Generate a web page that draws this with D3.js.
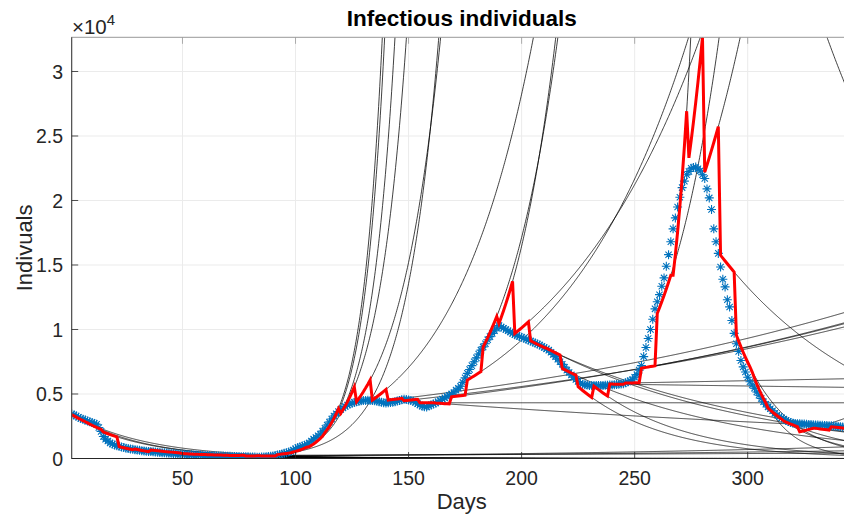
<!DOCTYPE html>
<html>
<head>
<meta charset="utf-8">
<script src="https://cdn.jsdelivr.net/npm/d3@7"></script>
<style>
  html, body { margin: 0; padding: 0; background: #fff; }
  svg { display: block; font-family: "Liberation Sans", Arial, Helvetica, sans-serif; }
</style>
</head>
<body>
<svg id="chart" width="844" height="520"></svg>
<script>
// ---------------- DATA ----------------
// Observed infectious individuals (blue asterisks), one value per day starting at day 1
const observed = [
  3450, 3380, 3300, 3200, 3100, 3050, 2980, 2900, 2850, 2800,
  2720, 2650, 2400, 2100, 1700, 1500, 1350, 1200, 1120, 1050,
  980, 950, 900, 850, 800, 770, 740, 710, 680, 650,
  630, 610, 590, 570, 550, 540, 530, 510, 490, 470,
  450, 440, 425, 410, 400, 385, 370, 355, 340, 330,
  320, 310, 300, 290, 280, 270, 260, 250, 240, 230,
  225, 220, 215, 210, 200, 195, 190, 185, 180, 170,
  165, 160, 155, 150, 150, 145, 140, 135, 130, 125,
  120, 110, 100, 100, 110, 120, 140, 160, 180, 200,
  230, 270, 310, 350, 400, 450, 500, 550, 650, 750,
  850, 900, 960, 1030, 1100, 1200, 1350, 1500, 1630, 1760,
  1900, 2120, 2350, 2600, 2830, 3060, 3300, 3470, 3640, 3800,
  3920, 4030, 4150, 4220, 4290, 4350, 4390, 4430, 4470, 4500,
  4500, 4510, 4500, 4500, 4470, 4440, 4400, 4360, 4330, 4300,
  4320, 4350, 4370, 4400, 4450, 4500, 4560, 4600, 4570, 4530,
  4490, 4450, 4350, 4250, 4150, 4050, 4020, 4000, 4080, 4150,
  4230, 4300, 4400, 4500, 4600, 4700, 4800, 4900, 5000, 5100,
  5300, 5450, 5600, 5900, 6250, 6600, 6900, 7200, 7500, 7800,
  8100, 8400, 8650, 8900, 9200, 9450, 9700, 9900, 10100, 10300,
  10200, 10100, 10000, 9900, 9800, 9700, 9600, 9530, 9460, 9400,
  9320, 9250, 9180, 9100, 9020, 8950, 8870, 8800, 8700, 8600,
  8500, 8400, 8240, 8070, 7900, 7700, 7500, 7300, 7080, 6850,
  6670, 6480, 6300, 6130, 5970, 5800, 5760, 5720, 5690, 5650,
  5650, 5650, 5650, 5650, 5650, 5660, 5670, 5680, 5690, 5700,
  5720, 5740, 5760, 5780, 5800, 5870, 5940, 6020, 6100, 6300,
  6500, 6850, 7200, 7900, 8600, 9300, 10000, 10800, 11600, 12150,
  12700, 13350, 14000, 14900, 15800, 16800, 17800, 18650, 19500, 20250,
  21000, 21500, 22000, 22250, 22500, 22550, 22600, 22450, 22300, 22000,
  21700, 20900, 20200, 19300, 17800, 16800, 15900, 14850, 13900, 13300,
  12300, 11750, 10700, 9700, 8900, 8300, 7600, 7100, 6700, 6300,
  5950, 5700, 5450, 5150, 4900, 4650, 4400, 4200, 4000, 3850,
  3700, 3500, 3350, 3250, 3150, 3050, 2950, 2870, 2800, 2740,
  2720, 2700, 2690, 2680, 2670, 2650, 2640, 2630, 2610, 2600,
  2590, 2580, 2570, 2560, 2550, 2540, 2530, 2520, 2500, 2480,
  2460, 2450, 2440, 2430, 2420, 2410
];

// Weekly exponential fits: window start day, fitted value at window start and at window end (6 days later)
const windowStart = [
  1, 8, 15, 22, 29, 36, 43, 50, 57, 64,
  71, 78, 85, 92, 99, 106, 113, 120, 127, 134,
  141, 148, 155, 162, 169, 176, 183, 190, 197, 204,
  211, 218, 225, 232, 239, 246, 253, 260, 267, 274,
  281, 288, 295, 302, 309, 316, 323, 330, 337, 344
];
const fitStartValue = [
  3400, 2760, 2050, 920, 740, 660, 530, 380, 320, 280,
  240, 200, 190, 300, 500, 913, 2000, 3500, 4400, 4530,
  4530, 4480, 4320, 4300, 4780, 6080, 8650, 10460, 9690, 9120,
  8550, 6980, 5560, 5610, 5770, 5850, 7000, 11240, 14200, 23300,
  22200, 15750, 9560, 6700, 3900, 2900, 2070, 2340, 2460, 2300
];
const fitEndValue = [
  2850, 2250, 1680, 680, 530, 540, 430, 330, 290, 250,
  243, 205, 197, 445, 873, 1735, 3870, 5550, 6080, 5350,
  4655, 4595, 4320, 4223, 4912, 6740, 11010, 13730, 10590, 8600,
  8020, 6460, 4740, 4840, 5755, 5870, 7190, 14200, 26920, 32650,
  25730, 14460, 7100, 4300, 3050, 2460, 2340, 2200, 2340, 2280
];
const windowLength = 6;

// One extra decaying projection entering from the top-right corner
const extraCurveStart = [330];
const extraCurveValue = [35200];
const extraCurveRate = [-0.0148];

const xTicks = [50, 100, 150, 200, 250, 300];
const yTicks = [0, 5000, 10000, 15000, 20000, 25000, 30000];
const yTickLabels = ["0", "0.5", "1", "1.5", "2", "2.5", "3"];

const titleText = "Infectious individuals";
const xLabelText = "Days";
const yLabelText = "Indivuals";

// ---------------- CHART ----------------
const svg = d3.select("#chart");
const pL = 71.7, pR = 851.7, pT = 37.3, pB = 458.5;
const xDomainEnd = 346;
const yMax = 32650;

const x = d3.scaleLinear().domain([1, xDomainEnd]).range([pL, pR]);
const y = d3.scaleLinear().domain([0, yMax]).range([pB, pT]);

svg.append("defs").append("clipPath").attr("id", "plotclip")
  .append("rect").attr("x", pL).attr("y", pT)
  .attr("width", pR - pL).attr("height", pB - pT);

// grid
const grid = svg.append("g");
grid.selectAll(".gx").data(xTicks).join("line")
  .attr("x1", d => x(d)).attr("x2", d => x(d))
  .attr("y1", pT).attr("y2", pB)
  .attr("stroke", "#ebebeb").attr("stroke-width", 1);
grid.selectAll(".gy").data(yTicks).join("line")
  .attr("x1", pL).attr("x2", pR)
  .attr("y1", d => y(d)).attr("y2", d => y(d))
  .attr("stroke", "#ebebeb").attr("stroke-width", 1);

const plot = svg.append("g").attr("clip-path", "url(#plotclip)");

// model curves
function expCurve(s, v0, r, dEnd, step) {
  const pts = [];
  for (let d = s; d <= dEnd + 1e-9; d += step) {
    const v = v0 * Math.exp(r * (d - s));
    pts.push([d, v]);
    if (v > yMax * 1.6) break;
  }
  return pts;
}
const line = d3.line().x(d => x(d[0])).y(d => y(d[1]));

const fits = windowStart.map((s, i) => ({
  s, v0: fitStartValue[i],
  r: Math.log(fitEndValue[i] / fitStartValue[i]) / windowLength
}));

const blackCurves = fits.map(f => expCurve(f.s, f.v0, f.r, xDomainEnd, 0.25))
  .concat(extraCurveStart.map((s, i) => expCurve(s, extraCurveValue[i], extraCurveRate[i], xDomainEnd, 0.25)));

plot.append("g").selectAll("path").data(blackCurves).join("path")
  .attr("d", line).attr("fill", "none")
  .attr("stroke", "#000").attr("stroke-width", 0.75);

// observed asterisks
const obs = observed.map((v, i) => [i + 1, v]);
const ms = 4.5;
const star = `M${-ms},0L${ms},0M0,${-ms}L0,${ms}M${-ms*0.7},${-ms*0.7}L${ms*0.7},${ms*0.7}M${-ms*0.7},${ms*0.7}L${ms*0.7},${-ms*0.7}`;
plot.append("g").selectAll("path").data(obs).join("path")
  .attr("transform", d => `translate(${x(d[0])},${y(d[1])})`)
  .attr("d", star).attr("fill", "none")
  .attr("stroke", "#0072BD").attr("stroke-width", 1.1);

// red piecewise fit line
const redPts = [];
fits.forEach(f => {
  const end = Math.min(f.s + windowLength, xDomainEnd);
  for (let d = f.s; d <= end; d += 1) redPts.push([d, f.v0 * Math.exp(f.r * (d - f.s))]);
});
plot.append("path").datum(redPts).attr("d", line)
  .attr("fill", "none").attr("stroke", "#ff0000")
  .attr("stroke-width", 3).attr("stroke-linejoin", "miter");

// axes frame
const axisColor = "#262626";
svg.append("rect").attr("x", pL).attr("y", pT)
  .attr("width", pR - pL).attr("height", pB - pT)
  .attr("fill", "none").attr("stroke", "#999").attr("stroke-width", 1);
svg.append("line").attr("x1", pL).attr("x2", pR).attr("y1", pB).attr("y2", pB)
  .attr("stroke", axisColor).attr("stroke-width", 1);
svg.append("line").attr("x1", pL).attr("x2", pL).attr("y1", pT).attr("y2", pB)
  .attr("stroke", axisColor).attr("stroke-width", 0.8);

// ticks (inward)
const tl = 6.5;
svg.append("g").selectAll("line").data(xTicks).join("line")
  .attr("x1", d => x(d)).attr("x2", d => x(d)).attr("y1", pB).attr("y2", pB - tl)
  .attr("stroke", axisColor).attr("stroke-width", 0.8);
svg.append("g").selectAll("line").data(xTicks).join("line")
  .attr("x1", d => x(d)).attr("x2", d => x(d)).attr("y1", pT).attr("y2", pT + tl)
  .attr("stroke", "#999").attr("stroke-width", 0.8);
svg.append("g").selectAll("line").data(yTicks).join("line")
  .attr("x1", pL).attr("x2", pL + tl).attr("y1", d => y(d)).attr("y2", d => y(d))
  .attr("stroke", axisColor).attr("stroke-width", 0.8);

// tick labels
svg.append("g").selectAll("text").data(xTicks).join("text")
  .attr("x", d => x(d)).attr("y", 484.5)
  .attr("text-anchor", "middle").attr("font-size", 19.5).attr("fill", axisColor)
  .text(d => d);
svg.append("g").selectAll("text").data(yTicks).join("text")
  .attr("x", 63).attr("y", d => y(d)).attr("dy", "0.36em")
  .attr("text-anchor", "end").attr("font-size", 19.5).attr("fill", axisColor)
  .text((d, i) => yTickLabels[i]);

// exponent label
const ex = svg.append("text").attr("x", 72).attr("y", 33.5).attr("font-size", 20.5).attr("fill", axisColor);
ex.append("tspan").text("\u00d710");
ex.append("tspan").attr("font-size", 15).attr("dy", -9).text("4");

// title & labels
svg.append("text").attr("x", (pL + pR) / 2).attr("y", 26)
  .attr("text-anchor", "middle").attr("font-size", 22.5).attr("font-weight", "bold")
  .attr("fill", "#000").text(titleText);
svg.append("text").attr("x", (pL + pR) / 2).attr("y", 508.5)
  .attr("text-anchor", "middle").attr("font-size", 22).attr("fill", axisColor)
  .text(xLabelText);
svg.append("text").attr("transform", `translate(32,${(pT + pB) / 2}) rotate(-90)`)
  .attr("text-anchor", "middle").attr("font-size", 22).attr("fill", axisColor)
  .text(yLabelText);
</script>
</body>
</html>
